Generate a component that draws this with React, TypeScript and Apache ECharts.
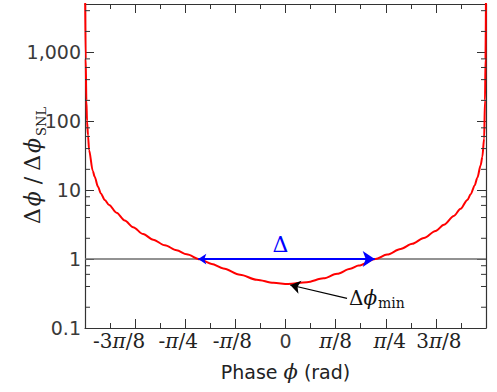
import React, { useEffect, useRef } from 'react';
import * as echarts from 'echarts';

const PI = Math.PI;

// Curve: phase (rad) vs Δϕ/Δϕ_SNL
const phase = [
  -1.5695, -1.5655, -1.56, -1.555, -1.547, -1.539, -1.51, -1.495, -1.469, -1.447,
  -1.416, -1.382, -1.324, -1.259, -1.194, -1.115, -1.037, -0.945, -0.853, -0.774,
  -0.67, -0.578, -0.487, -0.356, -0.225, -0.094, 0.02, 0.168, 0.298, 0.404,
  0.508, 0.573, 0.704, 0.796, 0.902, 0.993, 1.084, 1.176, 1.241, 1.319,
  1.372, 1.425, 1.451, 1.482, 1.503, 1.529, 1.542, 1.556, 1.563, 1.567, 1.5705,
];
const ratio = [
  6300, 800, 200, 100, 62, 38, 19, 15.6, 11.2, 8.96,
  7.2, 6.1, 4.7, 3.63, 2.9, 2.3, 1.91, 1.585, 1.34, 1.17,
  0.99, 0.851, 0.731, 0.592, 0.501, 0.452, 0.435, 0.462, 0.525, 0.612,
  0.723, 0.805, 1.0, 1.164, 1.396, 1.66, 2.02, 2.56, 3.14, 4.22,
  5.37, 7.21, 8.71, 11.7, 15.1, 22.9, 30.2, 56, 200, 800, 6300,
];

// Horizontal reference line at the shot-noise limit
const baselinePhase = [-PI / 2, PI / 2];
const baselineRatio = [1, 1];

// Blue double arrow "Δ"
const deltaPhase = [-0.683, 0.699];
const deltaRatio = [1, 1];
const deltaLabel = 'Δ';

// Annotation arrow to the minimum
const minArrowPhase = [0.482, 0.037];
const minArrowRatio = [0.269, 0.42];

// Axis ticks
const xTickLabels = ['', '-3π/8', '-π/4', '-π/8', '0', 'π/8', 'π/4', '3π/8', ''];
const yTickValues = [0.1, 1, 10, 100, 1000];
const yTickLabels = ['0.1', '1', '10', '100', '1,000'];
const yMinorTicks = [0.2, 0.4, 0.6, 0.8, 2, 4, 6, 8, 20, 40, 60, 80, 200, 400, 600, 800, 2000, 4000];

// horizontal label offsets (px) mimicking the reference's label placement
const xLabelShift = [0, -16, -7, -3, 0, 0, 4, 3, 0];

const AXIS = '#333';
const TXT = '#3a3a3a';
const SERIF = 'DejaVu Serif';
const SANS = 'DejaVu Sans';

function buildXRich() {
  const base: Record<string, any> = {
    u: { fontFamily: SERIF, fontSize: 20, color: '#222' },
    i: { fontFamily: SERIF, fontSize: 20, fontStyle: 'italic', color: '#222' },
    z: { fontFamily: SANS, fontSize: 19, color: TXT },
  };
  const rich: Record<string, any> = { ...base };
  xLabelShift.forEach((s) => {
    if (s < 0) {
      ['u', 'i'].forEach((t) => (rich[t + 'R' + -2 * s] = { ...base[t], padding: [0, -2 * s, 0, 0] }));
    } else if (s > 0) {
      ['u', 'i'].forEach((t) => (rich[t + 'L' + 2 * s] = { ...base[t], padding: [0, 0, 0, 2 * s] }));
    }
  });
  return rich;
}

function xLabelRich(label: string, shift: number) {
  if (!label) return '';
  if (label === '0') return '{z|0}';
  const segs: [string, string][] = [];
  for (const ch of label) {
    const t = ch === 'π' ? 'i' : 'u';
    if (segs.length && segs[segs.length - 1][0] === t) segs[segs.length - 1][1] += ch;
    else segs.push([t, ch]);
  }
  if (shift < 0) segs[segs.length - 1][0] += 'R' + -2 * shift;
  if (shift > 0) segs[0][0] += 'L' + 2 * shift;
  return segs.map(([t, s]) => `{${t}|${s}}`).join('');
}

export default function App() {
  const ref = useRef<HTMLDivElement>(null);

  useEffect(() => {
    const chart = echarts.init(ref.current!, null, { renderer: 'svg' });
    const step = PI / 8;
    const xRich = buildXRich();

    const xCommon = {
      type: 'value',
      min: -4 * step,
      max: 4 * step,
      interval: step,
      splitLine: { show: false },
      axisLine: { show: true, onZero: false, lineStyle: { color: AXIS, width: 1.2 } },
      axisTick: { show: true, inside: true, length: 9, lineStyle: { color: AXIS, width: 1 } },
      minorTick: { show: true, splitNumber: 2, length: 5, lineStyle: { color: AXIS, width: 1 } },
    };
    const yCommon = {
      type: 'log',
      logBase: 10,
      min: 0.1,
      max: 5000,
      splitLine: { show: false },
      axisLine: { show: true, onZero: false, lineStyle: { color: AXIS, width: 1.2 } },
      axisTick: { show: true, inside: true, length: 9, lineStyle: { color: AXIS, width: 1 } },
    };

    const option: any = {
      animation: false,
      grid: { left: 85, right: 11, top: 4, bottom: 64, containLabel: false, outerBoundsMode: 'none' },
      xAxis: [
        {
          ...xCommon,
          position: 'bottom',
          name: '{s|Phase }{p|ϕ}{s| (rad)}',
          nameLocation: 'middle',
          nameGap: 33,
          nameMoveOverlap: false,
          nameTextStyle: {
            rich: {
              s: { fontFamily: SANS, fontSize: 19, color: '#222' },
              p: { fontFamily: SERIF, fontSize: 21, fontStyle: 'italic', color: '#222' },
            },
          },
          axisLabel: {
            show: true,
            margin: 3,
            formatter: (v: number) => {
              const idx = Math.round(v / step) + 4;
              return xLabelRich(xTickLabels[idx] || '', xLabelShift[idx] || 0);
            },
            rich: xRich,
          },
        },
        { ...xCommon, position: 'top', axisLabel: { show: false } },
      ],
      yAxis: [
        {
          ...yCommon,
          position: 'left',
          name: '{d|Δ}{p|ϕ}{q|/}{d|Δ}{p|ϕ}{s|SNL}',
          nameLocation: 'middle',
          nameRotate: 90,
          nameGap: 37,
          nameMoveOverlap: false,
          nameTextStyle: {
            rich: {
              d: { fontFamily: SERIF, fontSize: 22, color: '#222', verticalAlign: 'bottom', padding: [0, 1, 5, 1] },
              p: { fontFamily: SERIF, fontSize: 22, fontStyle: 'italic', color: '#222', verticalAlign: 'bottom', padding: [0, 2, 5, 1] },
              q: { fontFamily: SERIF, fontSize: 22, color: '#222', verticalAlign: 'bottom', padding: [0, 5, 5, 5] },
              s: { fontFamily: SERIF, fontSize: 13, color: '#222', verticalAlign: 'bottom', padding: [0, 0, 0, 0] },
            },
          },
          axisLabel: {
            show: true,
            margin: 4,
            fontFamily: SANS,
            fontSize: 19,
            color: TXT,
            formatter: (v: number) => {
              const i = yTickValues.findIndex((t) => Math.abs(v - t) / t < 1e-6);
              return i >= 0 ? yTickLabels[i] : '';
            },
          },
        },
        { ...yCommon, position: 'right', axisLabel: { show: false } },
      ],
      series: [
        {
          type: 'custom',
          name: 'yMinorTicks',
          silent: true,
          clip: false,
          data: yMinorTicks.map((v) => [0, v]),
          encode: { x: 0, y: 1 },
          renderItem: (params: any, api: any) => {
            const v = api.value(1);
            const pL = api.coord([-4 * step, v]);
            const pR = api.coord([4 * step, v]);
            const st = { stroke: AXIS, lineWidth: 1 };
            return {
              type: 'group',
              children: [
                { type: 'line', shape: { x1: pL[0], y1: pL[1], x2: pL[0] + 5, y2: pL[1] }, style: st },
                { type: 'line', shape: { x1: pR[0], y1: pR[1], x2: pR[0] - 5, y2: pR[1] }, style: st },
              ],
            };
          },
          z: 5,
        },
        {
          type: 'line',
          name: 'SNL',
          silent: true,
          data: baselinePhase.map((p, i) => [p, baselineRatio[i]]),
          symbol: 'none',
          lineStyle: { color: '#6e6e6e', width: 1.5 },
          z: 2,
        },
        {
          type: 'line',
          name: 'ratio',
          silent: true,
          data: phase.map((p, i) => [p, ratio[i]]),
          symbol: 'none',
          smooth: 0.3,
          smoothMonotone: 'x',
          lineStyle: { color: '#ff0000', width: 2 },
          clip: true,
          z: 3,
        },
        {
          type: 'lines',
          coordinateSystem: 'cartesian2d',
          silent: true,
          symbol: ['arrow', 'arrow'],
          symbolSize: [8, 12],
          lineStyle: { color: '#0000ff', width: 2, opacity: 1 },
          label: {
            show: true,
            position: 'middle',
            distance: 4,
            formatter: deltaLabel,
            fontFamily: SERIF,
            fontSize: 22,
            color: '#0000ff',
            padding: [0, 12, 0, 0],
          },
          data: [{ coords: deltaPhase.map((p, i) => [p, deltaRatio[i]]) }],
          z: 4,
        },
        {
          type: 'lines',
          coordinateSystem: 'cartesian2d',
          silent: true,
          symbol: ['none', 'arrow'],
          symbolSize: [6, 10],
          lineStyle: { color: '#000', width: 1.2, opacity: 1 },
          label: {
            show: true,
            position: 'start',
            distance: 2,
            formatter: '{d|Δ}{p|ϕ}{s|min}',
            rich: {
              d: { fontFamily: SERIF, fontSize: 20, color: '#111', verticalAlign: 'bottom', padding: [0, 0, 2, 0] },
              p: { fontFamily: SERIF, fontSize: 20, fontStyle: 'italic', color: '#111', verticalAlign: 'bottom', padding: [0, 1, 2, 0] },
              s: { fontFamily: SERIF, fontSize: 14, color: '#111', verticalAlign: 'bottom' },
            },
          },
          data: [{ coords: minArrowPhase.map((p, i) => [p, minArrowRatio[i]]) }],
          z: 4,
        },
      ],
    };

    chart.setOption(option);
    return () => chart.dispose();
  }, []);

  return (
    <div
      ref={ref}
      style={{ position: 'fixed', left: 0, top: 0, width: 497, height: 392, background: '#fff' }}
    />
  );
}
